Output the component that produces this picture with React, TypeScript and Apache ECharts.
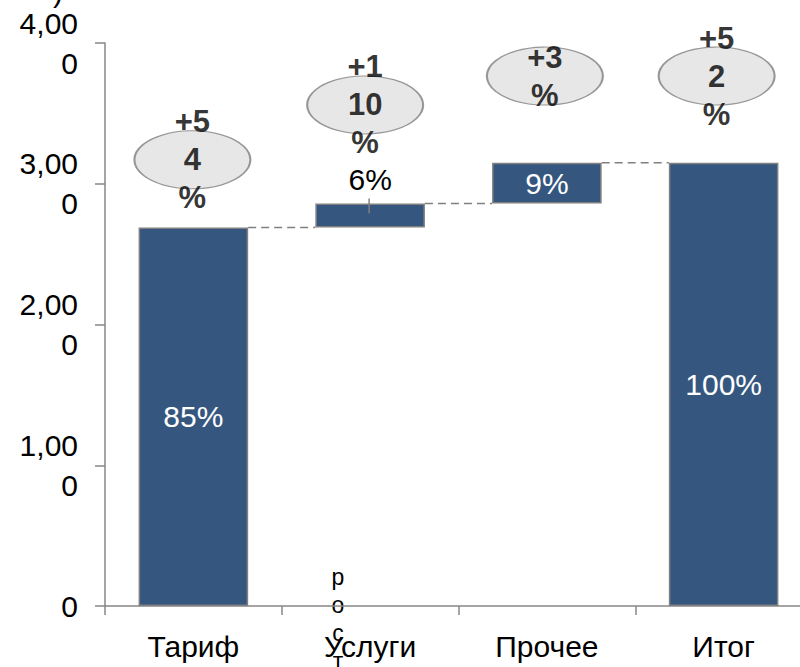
import React, { useEffect, useRef } from "react";
import * as echarts from "echarts";

const categories = ["Тариф", "Услуги", "Прочее", "Итог"];
const baseValues = [0, 2690, 2860, 0];
const barValues = [2690, 170, 290, 3150];
const shareLabels = ["85%", "6%", "9%", "100%"];
const growthLabels = ["+5\n4\n%", "+1\n10\n%", "+3\n%", "+5\n2\n%"];
const growthLevels = [3170, 3560, 3765, 3765];
const connectors = [
  [0, 1, 2690],
  [1, 2, 2860],
  [2, 3, 3150],
];
const yMin = 0;
const yMax = 4000;
const yInterval = 1000;

const FONT = "'Liberation Sans', Arial, sans-serif";
const AXIS = "#878787";
const BAR = "#35577f";
const BORDER = "#808080";
const BAR_RATIO = 0.62;
const BUBBLE_SHIFT = [-1, -5, -2, -7];

export default function App() {
  const ref = useRef<HTMLDivElement>(null);
  useEffect(() => {
    document.body.style.margin = "0";
    if (!ref.current) return;
    const chart = echarts.init(ref.current, null, { renderer: "svg" });
    const option: any = {
      animation: false,
      textStyle: { fontFamily: FONT },
      grid: {
        left: 105,
        top: 43,
        width: 707,
        bottom: 61,
        containLabel: false,
        outerBoundsMode: "none",
      },
      xAxis: {
        type: "category",
        data: categories,
        axisLine: { lineStyle: { color: AXIS, width: 1.5 } },
        axisTick: { show: true, length: 9, interval: 0, lineStyle: { color: AXIS, width: 1.5 } },
        axisLabel: { color: "#000", fontSize: 30, margin: 25, fontFamily: FONT, interval: 0 },
      },
      yAxis: {
        type: "value",
        min: yMin,
        max: yMax,
        interval: yInterval,
        splitLine: { show: false },
        axisLine: { show: true, lineStyle: { color: AXIS, width: 1.5 } },
        axisTick: { show: true, length: 10, lineStyle: { color: AXIS, width: 1.5 } },
        axisLabel: {
          color: "#000",
          fontSize: 30,
          lineHeight: 40,
          margin: 27,
          fontFamily: FONT,
          formatter: (v: number) => {
            if (v === 0) return "0";
            const s = Number(v).toLocaleString("en-US");
            return s.slice(0, 4) + "\n" + s.slice(4);
          },
        },
      },
      series: [
        {
          type: "bar",
          stack: "w",
          barWidth: BAR_RATIO * 100 + "%",
          data: baseValues,
          itemStyle: { color: "transparent", borderWidth: 0 },
          emphasis: { disabled: true },
          silent: true,
          z: 2,
        },
        {
          type: "bar",
          stack: "w",
          barWidth: BAR_RATIO * 100 + "%",
          z: 3,
          data: barValues.map((v, i) => ({
            value: v,
            label:
              i === 1
                ? { position: "top", color: "#000", distance: 9 }
                : { position: "inside", color: "#fff" },
          })),
          itemStyle: { color: BAR, borderColor: BORDER, borderWidth: 1.5 },
          label: {
            show: true,
            fontSize: 30,
            fontFamily: FONT,
            formatter: (p: any) => shareLabels[p.dataIndex],
          },
        },
        {
          type: "scatter",
          z: 5,
          symbol: "circle",
          symbolSize: [116, 58],
          data: growthLevels.map((v, i) => ({
            value: [i, v],
            symbolOffset: [BUBBLE_SHIFT[i], 0],
          })),
          itemStyle: { color: "#e1e1e1", borderColor: BORDER, borderWidth: 1.5 },
          label: {
            show: true,
            position: "inside",
            color: "#000",
            fontWeight: "bold",
            fontSize: 31,
            lineHeight: 38,
            fontFamily: FONT,
            formatter: (p: any) => growthLabels[p.dataIndex],
          },
        },
      ],
    };
    chart.setOption(option);
    const toPx = (c: number, v: number) =>
      chart.convertToPixel({ gridIndex: 0 }, [c, v]) as number[];
    const c0 = toPx(0, 0);
    const c1 = toPx(1, 0);
    const halfBar = ((c1[0] - c0[0]) * BAR_RATIO) / 2;
    const lines: any[] = connectors.map(([a, b, v]) => {
      const pa = toPx(a, v);
      const pb = toPx(b, v);
      return {
        type: "line",
        z: 1,
        shape: { x1: pa[0] + halfBar, y1: pa[1], x2: pb[0] - halfBar, y2: pb[1] },
        style: { stroke: BORDER, lineWidth: 1.5, lineDash: [8, 5] },
      };
    });
    const p = toPx(1, baseValues[1] + barValues[1]);
    chart.setOption({
      graphic: [
        ...lines,
        {
          type: "line",
          z: 10,
          shape: { x1: p[0] - 1, y1: p[1] - 5, x2: p[0] - 1, y2: p[1] + 10 },
          style: { stroke: BORDER, lineWidth: 1.5 },
        },
        {
          type: "text",
          left: 53,
          top: -24,
          style: { text: ")", fontSize: 30, fontFamily: FONT, fill: "#000" },
        },
        {
          type: "text",
          x: 338,
          y: 619,
          style: {
            text: "р\nо\nс\nт",
            fontSize: 23,
            lineHeight: 28,
            fontFamily: FONT,
            fill: "#000",
            align: "center",
            verticalAlign: "middle",
          },
        },
      ],
    });
    return () => chart.dispose();
  }, []);
  return <div ref={ref} style={{ width: 800, height: 667 }} />;
}
